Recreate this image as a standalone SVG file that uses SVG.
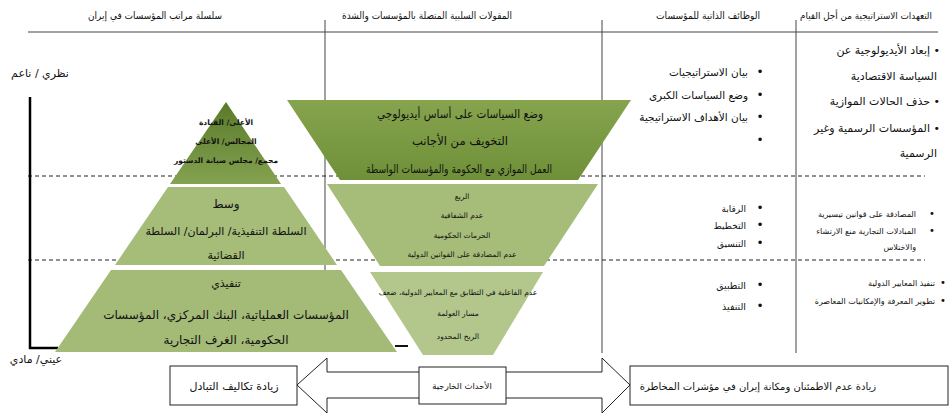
<svg xmlns="http://www.w3.org/2000/svg" width="952" height="416" viewBox="0 0 952 416">
<defs>
<linearGradient id="gTop" x1="0" y1="0" x2="0" y2="1">
<stop offset="0" stop-color="#5a7a2a"/><stop offset="1" stop-color="#84a250"/>
</linearGradient>
<linearGradient id="gInv" x1="0" y1="0" x2="0" y2="1">
<stop offset="0" stop-color="#86a44e"/><stop offset="1" stop-color="#6f8f38"/>
</linearGradient>
</defs>
<style>
text { font-family: "DejaVu Sans", sans-serif; fill: #111; }
.c { text-anchor: middle; }
.r { direction: rtl; text-anchor: start; }
.h { font-size: 10px; }
.rule { stroke: #444; stroke-width: 1; fill: none; }
.dash { stroke: #222; stroke-width: 1; stroke-dasharray: 4 3; fill: none; }
.box { fill: #fff; stroke: #222; stroke-width: 1; }
</style>
<rect width="952" height="416" fill="#fff"/>

<g id="grid">
<line class="rule" x1="28" y1="32" x2="938" y2="32"/>
<line class="rule" x1="325" y1="20" x2="325" y2="300"/>
<line class="rule" x1="602" y1="20" x2="602" y2="353"/>
<line class="rule" x1="796" y1="20" x2="796" y2="353"/>
<line class="dash" x1="28" y1="176" x2="925" y2="176"/>
<line class="dash" x1="28" y1="260" x2="925" y2="260"/>
</g>

<g id="headers">
<text class="c h" x="155" y="19" textLength="134" lengthAdjust="spacingAndGlyphs">سلسلة مراتب المؤسسات في إيران</text>
<text class="c h" x="427" y="19" textLength="170" lengthAdjust="spacingAndGlyphs">المقولات السلبية المتصلة بالمؤسسات والشدة</text>
<text class="c h" x="708" y="19" textLength="104" lengthAdjust="spacingAndGlyphs">الوظائف الذاتية للمؤسسات</text>
<text class="c" x="866" y="19" font-size="9.5" textLength="132" lengthAdjust="spacingAndGlyphs">التعهدات الاستراتيجية من أجل القيام</text>
</g>

<g id="axis">
<polyline points="30,97 30,348 58,348" fill="none" stroke="#000" stroke-width="2.5"/>
<text class="c" x="40" y="77" font-size="11">نظري / ناعم</text>
<text class="c" x="36" y="363" font-size="11">عيني/ مادي</text>
</g>

<g id="pyramid-top">
<polygon points="226,102 281,184 170,184" fill="url(#gTop)"/>
<text class="c" x="226" y="125" font-size="7.5" font-weight="bold">الأعلى/ القيادة</text>
<text class="c" x="226" y="144" font-size="7.5" font-weight="bold">المجالس/ الأعلى</text>
<text class="c" x="226" y="163" font-size="7.5" font-weight="bold">مجمع/ مجلس صيانة الدستور</text>
</g>

<g id="pyramid-middle">
<polygon points="168,187 284,187 337,265 115,265" fill="#a6bd7a"/>
<text class="c" x="226" y="208" font-size="12">وسط</text>
<text class="c" x="226" y="235" font-size="11">السلطة التنفيذية/ البرلمان/ السلطة</text>
<text class="c" x="226" y="259" font-size="11">القضائية</text>
</g>

<g id="pyramid-bottom">
<polygon points="111,270 341,270 397,352 55,352" fill="#a4ba77"/>
<text class="c" x="226" y="287" font-size="11">تنفيذي</text>
<text class="c" x="226" y="319" font-size="12">المؤسسات العملياتية، البنك المركزي، المؤسسات</text>
<text class="c" x="226" y="344" font-size="12">الحكومية، الغرف التجارية</text>
</g>

<g id="inverted-top">
<polygon points="287,100 631,100 578,180 340,180" fill="url(#gInv)"/>
<text class="c" x="460" y="118" font-size="12" textLength="166" lengthAdjust="spacingAndGlyphs">وضع السياسات على أساس أيديولوجي</text>
<text class="c" x="460" y="145" font-size="12" textLength="96" lengthAdjust="spacingAndGlyphs">التخويف من الأجانب</text>
<text class="c" x="459" y="173" font-size="11.5" textLength="186" lengthAdjust="spacingAndGlyphs">العمل الموازي مع الحكومة والمؤسسات الواسطة</text>
</g>

<g id="inverted-middle">
<polygon points="327,184 598,184 544,266 380,266" fill="#a6bc79"/>
<text class="c" x="462" y="199" font-size="7.5">الريع</text>
<text class="c" x="462" y="218" font-size="7.5">عدم الشفافية</text>
<text class="c" x="462" y="238" font-size="7.5">الحرمات الحكومية</text>
<text class="c" x="462" y="257" font-size="7.5">عدم المصادقة على القوانين الدولية</text>
</g>

<g id="inverted-bottom">
<polygon points="370,272 543,272 493,355 423,355" fill="#b3c78d"/>
<text class="c" x="458" y="295" font-size="7.5">عدم الفاعلية في التطابق مع المعايير الدولية، ضعف</text>
<text class="c" x="458" y="316" font-size="7.5">مسار العولمة</text>
<text class="c" x="458" y="339" font-size="7.5">الربح المحدود</text>
</g>

<line x1="395" y1="346" x2="408" y2="346" stroke="#111" stroke-width="2"/>

<g id="functions">
<text class="c" x="760" y="76" font-size="12">•</text>
<text class="r" x="748" y="76" font-size="10.5">بيان الاستراتيجيات</text>
<text class="c" x="760" y="99" font-size="12">•</text>
<text class="r" x="748" y="99" font-size="10.5">وضع السياسات الكبرى</text>
<text class="c" x="760" y="121" font-size="12">•</text>
<text class="r" x="748" y="121" font-size="10.5">بيان الأهداف الاستراتيجية</text>
<text class="c" x="760" y="144" font-size="12">•</text>
<text class="c" x="760" y="212" font-size="12">•</text>
<text class="r" x="746" y="212" font-size="9">الرقابة</text>
<text class="c" x="760" y="229" font-size="12">•</text>
<text class="r" x="746" y="229" font-size="9">التخطيط</text>
<text class="c" x="760" y="247" font-size="12">•</text>
<text class="r" x="746" y="247" font-size="9">التنسيق</text>
<text class="c" x="760" y="289" font-size="12">•</text>
<text class="r" x="746" y="289" font-size="9.5">التطبيق</text>
<text class="c" x="760" y="310" font-size="12">•</text>
<text class="r" x="746" y="310" font-size="9.5">التنفيذ</text>
</g>

<g id="commitments">
<text class="r" x="940" y="54" font-size="11">• إبعاد الأيديولوجية عن</text>
<text class="r" x="937" y="80" font-size="11">السياسة الاقتصادية</text>
<text class="r" x="940" y="105" font-size="11">• حذف الحالات الموازية</text>
<text class="r" x="940" y="132" font-size="11">• المؤسسات الرسمية وغير</text>
<text class="r" x="937" y="157" font-size="11">الرسمية</text>
<text class="c" x="932" y="217" font-size="10">•</text>
<text class="r" x="916" y="217" font-size="8">المصادقة على قوانين تيسيرية</text>
<text class="c" x="932" y="234" font-size="10">•</text>
<text class="r" x="916" y="234" font-size="8">المبادلات التجارية منع الارتشاء</text>
<text class="r" x="916" y="250" font-size="8">والاختلاس</text>
<text class="c" x="943" y="286" font-size="10">•</text>
<text class="r" x="935" y="286" font-size="8">تنفيذ المعايير الدولية</text>
<text class="c" x="943" y="304" font-size="10">•</text>
<text class="r" x="935" y="304" font-size="8">تطوير المعرفة والإمكانيات المعاصرة</text>
</g>

<g id="connectors">
<polygon class="box" points="297,385 327,358 327,372 602,372 602,358 630,385 602,413 602,398 327,398 327,413"/>
</g>

<g id="box-left">
<rect class="box" x="170" y="366" width="127" height="39"/>
<text class="c" x="234" y="390" font-size="11">زيادة تكاليف التبادل</text>
</g>

<g id="box-middle">
<rect class="box" x="419" y="367" width="87" height="37"/>
<text class="c" x="462" y="389" font-size="8.5">الأحداث الخارجية</text>
</g>

<g id="box-right">
<rect class="box" x="630" y="366" width="318" height="39"/>
<text class="c" x="758" y="390" font-size="10">زيادة عدم الاطمئنان ومكانة إيران في مؤشرات المخاطرة</text>
</g>
</svg>
